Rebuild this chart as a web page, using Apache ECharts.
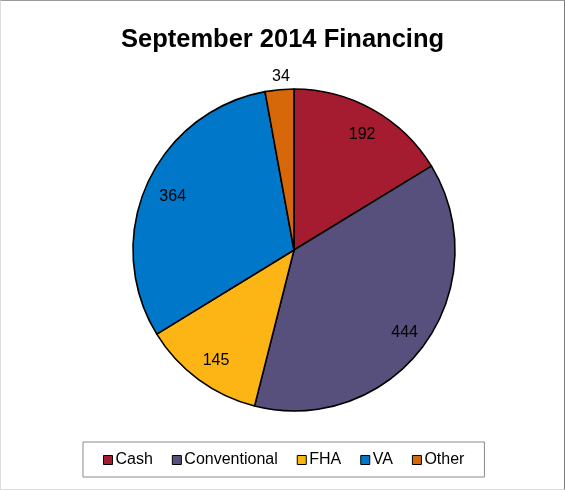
<!DOCTYPE html>
<html>
<head>
<meta charset="utf-8">
<script src="https://cdn.jsdelivr.net/npm/echarts@6/dist/echarts.min.js"></script>
<style>
html,body{margin:0;padding:0;background:#fff;}
#wrap{width:565px;height:490px;box-sizing:border-box;border-style:solid;border-width:1px;border-top-color:#9a9a9a;border-right-color:#7a7a7a;border-left-color:#dcdcdc;border-bottom-color:#dcdcdc;}
#chart{width:563px;height:488px;}
</style>
</head>
<body>
<div id="wrap"><div id="chart"></div></div>
<script>
const titleText = 'September 2014 Financing';
const categories = ['Cash', 'Conventional', 'FHA', 'VA', 'Other'];
const values = [192, 444, 145, 364, 34];
const colors = ['#A51B30', '#58507C', '#FDB515', '#0077C8', '#D6680A'];

const chart = echarts.init(document.getElementById('chart'));
const font = 'Liberation Sans, Arial, sans-serif';
const center = [293, 249];
const R = 161;

const mainData = categories.map((c, i) => ({ name: c, value: values[i], itemStyle: { color: colors[i] } }));
const labelData = categories.map((c, i) => ({
  name: c, value: values[i],
  label: { show: c !== 'Other' }
}));
const outerLabelData = categories.map((c, i) => ({
  name: c, value: values[i],
  label: { show: c === 'Other' }
}));

const transparent = { color: 'rgba(0,0,0,0)', borderWidth: 0 };

chart.setOption({
  animation: false,
  backgroundColor: '#fff',
  title: {
    text: titleText, left: 'center', top: 21,
    textStyle: { fontFamily: font, fontWeight: 'bold', fontSize: 25.5, color: '#000' }
  },
  legend: {
    data: categories,
    left: 82, top: 441,
    orient: 'horizontal',
    icon: 'rect', itemWidth: 9, itemHeight: 9, itemGap: 19,
    padding: [10, 20, 9, 20],
    borderColor: '#8a8a8a', borderWidth: 1,
    itemStyle: { borderColor: '#000', borderWidth: 1 },
    textStyle: { fontFamily: font, fontSize: 16, color: '#000', padding: [0, 0, 0, -2] }
  },
  series: [
    {
      type: 'pie', center: center, radius: [0, R], startAngle: 90, clockwise: true,
      data: mainData, label: { show: false }, labelLine: { show: false },
      itemStyle: { borderColor: '#000', borderWidth: 1.6 },
      emphasis: { disabled: true }, silent: true, z: 2
    },
    {
      type: 'pie', center: center, radius: [0, R * 1.64], startAngle: 90, clockwise: true,
      data: labelData, itemStyle: transparent, labelLine: { show: false },
      label: { position: 'inside', formatter: '{c}', fontFamily: font, fontSize: 16, color: '#000', offset: [2, 2] },
      emphasis: { disabled: true }, silent: true, z: 3, legendHoverLink: false
    },
    {
      type: 'pie', center: center, radius: [0, R * 2.16], startAngle: 90, clockwise: true,
      data: outerLabelData, itemStyle: transparent, labelLine: { show: false },
      label: { position: 'inside', formatter: '{c}', fontFamily: font, fontSize: 16, color: '#000', offset: [3, 3] },
      emphasis: { disabled: true }, silent: true, z: 3, legendHoverLink: false
    }
  ]
});
</script>
</body>
</html>
